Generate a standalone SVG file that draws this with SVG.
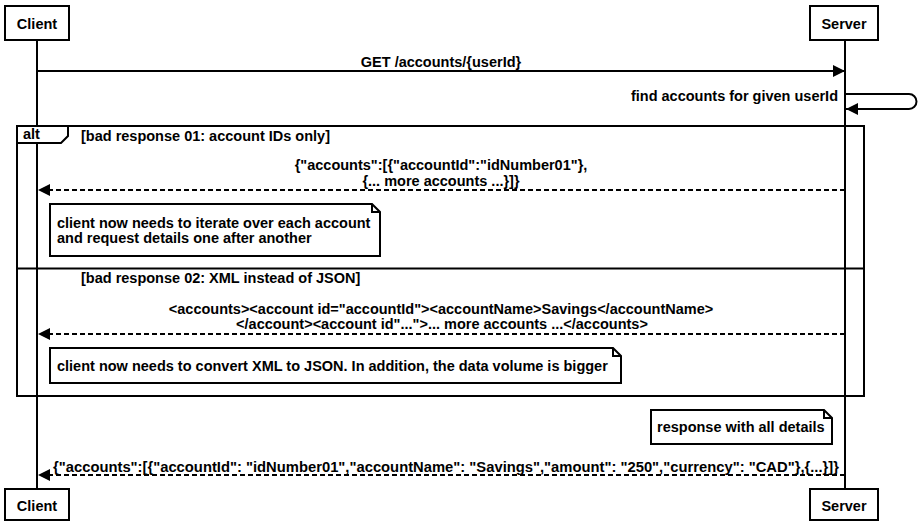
<svg xmlns="http://www.w3.org/2000/svg" width="919" height="522" viewBox="0 0 919 522">
<style>
text{font-family:"Liberation Sans",Arial,sans-serif;font-weight:bold;font-size:14.5px;fill:#000}
.box{fill:#fff;stroke:#000;stroke-width:2}
.life{stroke:#000;stroke-width:2;fill:none}
.msg{stroke:#000;stroke-width:2;fill:none}
.dash{stroke:#000;stroke-width:2;fill:none;stroke-dasharray:5,3}
.frame{fill:none;stroke:#000;stroke-width:2}
.note{fill:#fff;stroke:#000;stroke-width:2}
.mid{text-anchor:middle}
</style>
<defs>
<marker id="ah" viewBox="0 0 12 12" refX="12" refY="6" markerWidth="12" markerHeight="12" markerUnits="userSpaceOnUse" orient="auto">
<path d="M0,0 L12,6 L0,12 Z" fill="#000"/>
</marker>
</defs>
<g id="lifelines">
<line class="life" x1="37" y1="40" x2="37" y2="489"/>
<line class="life" x1="845" y1="40" x2="845" y2="489"/>
</g>
<g id="alt-frame">
<rect class="frame" x="17" y="126" width="847" height="270"/>
<path d="M17,126 H68 V136 L61,143 H17 Z" fill="#fff" stroke="#000" stroke-width="2"/>
<text x="23" y="139">alt</text>
<text x="81" y="141">[bad response 01: account IDs only]</text>
<line class="frame" x1="17" y1="268.5" x2="864" y2="268.5"/>
<text x="81" y="283">[bad response 02: XML instead of JSON]</text>
</g>
<g id="client-top"><rect class="box" x="5" y="6" width="64" height="34"/><text class="mid" x="37" y="29">Client</text></g>
<g id="server-top"><rect class="box" x="810" y="6" width="68" height="34"/><text class="mid" x="844" y="29">Server</text></g>
<g id="client-bottom"><rect class="box" x="5" y="489" width="64" height="31"/><text class="mid" x="37" y="511">Client</text></g>
<g id="server-bottom"><rect class="box" x="810" y="489" width="68" height="31"/><text class="mid" x="844" y="511">Server</text></g>
<g id="connectors">
<line class="msg" x1="37" y1="71" x2="845" y2="71" marker-end="url(#ah)"/>
<path class="msg" d="M845,94 H909 A7.5,7.5 0 0 1 909,109 H846" marker-end="url(#ah)"/>
<line class="dash" x1="845" y1="190" x2="38" y2="190" marker-end="url(#ah)"/>
<line class="dash" x1="845" y1="334" x2="38" y2="334" marker-end="url(#ah)"/>
<line class="dash" x1="845" y1="475" x2="38" y2="475" marker-end="url(#ah)"/>
</g>
<g id="labels">
<text class="mid" x="441" y="67">GET /accounts/{userId}</text>
<text x="838" y="101" text-anchor="end">find accounts for given userId</text>
<text class="mid" x="441" y="170">{"accounts":[{"accountId":"idNumber01"},</text>
<text class="mid" x="441" y="186">{... more accounts ...}]}</text>
<text class="mid" x="441" y="314">&lt;accounts&gt;&lt;account id="accountId"&gt;&lt;accountName&gt;Savings&lt;/accountName&gt;</text>
<text class="mid" x="442" y="329">&lt;/account&gt;&lt;account id"..."&gt;... more accounts ...&lt;/accounts&gt;</text>
<text x="53" y="472" textLength="786" lengthAdjust="spacingAndGlyphs">{"accounts":[{"accountId": "idNumber01","accountName": "Savings","amount": "250","currency": "CAD"},{...}]}</text>
</g>
<g id="note1">
<path class="note" d="M50,204 H372 L380,212 V256 H50 Z"/>
<path class="frame" d="M372,204 V212 H380" stroke-width="1.5"/>
<text x="57" y="228">client now needs to iterate over each account</text>
<text x="57" y="243">and request details one after another</text>
</g>
<g id="note2">
<path class="note" d="M50,348 H613 L621,356 V383 H50 Z"/>
<path class="frame" d="M613,348 V356 H621" stroke-width="1.5"/>
<text x="57" y="371">client now needs to convert XML to JSON. In addition, the data volume is bigger</text>
</g>
<g id="note3">
<path class="note" d="M651,410 H824 L832,418 V444 H651 Z"/>
<path class="frame" d="M824,410 V418 H832" stroke-width="1.5"/>
<text x="657" y="432">response with all details</text>
</g>
</svg>
